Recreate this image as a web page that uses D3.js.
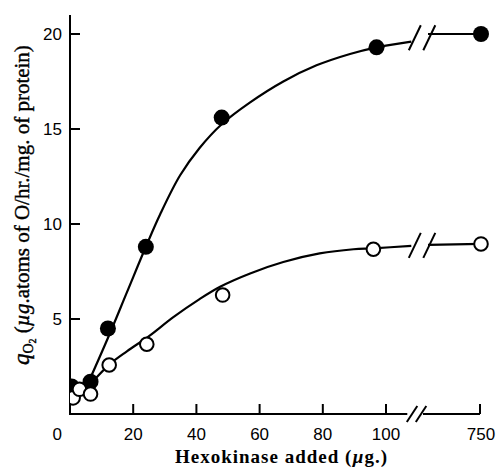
<!DOCTYPE html>
<html>
<head>
  <meta charset="utf-8">
  <title>Hexokinase and q O2</title>
  <script src="https://d3js.org/d3.v7.min.js"></script>
  <style>
    body {
      margin: 0;
      padding: 0;
      background: white;
    }
    .axis-line, .tick-mark, .brk {
      stroke: black;
      stroke-width: 2;
      fill: none;
    }
    .tick-label {
      font-family: "Liberation Sans", Arial, sans-serif;
      font-size: 17px;
      fill: black;
    }
    .axis-title {
      font-family: "Liberation Serif", "Times New Roman", serif;
      fill: black;
    }
    .curve {
      stroke: black;
      stroke-width: 2.2;
      fill: none;
    }
  </style>
</head>
<body>
<div id="chart"></div>
<script>

  // measured points, x = hexokinase (ug), y = qO2
  var filledX = [0.5, 6.5, 12, 24, 48, 97, 750]
  var filledY = [1.45, 1.7, 4.5, 8.8, 15.6, 19.3, 20.0]
  var openX = [1, 3, 6.5, 12.4, 24.3, 48.3, 96, 750]
  var openY = [0.85, 1.3, 1.05, 2.58, 3.67, 6.26, 8.67, 8.95]

  // hand-drawn fitted curves (before the break)
  var upperCurveX = [5, 12, 18, 24, 28.5, 34.8, 41, 48, 57, 67.5, 78, 88.6, 97, 108]
  var upperCurveY = [1.35, 4.0, 6.4, 8.8, 10.5, 12.55, 14.0, 15.25, 16.4, 17.5, 18.35, 18.95, 19.3, 19.6]
  var lowerCurveX = [0, 3, 6.5, 12.4, 18, 25, 32.7, 41, 47.5, 57, 67.5, 79, 89.7, 96, 108]
  var lowerCurveY = [0.6, 1.1, 1.6, 2.6, 3.3, 4.1, 5.1, 6.05, 6.7, 7.4, 8.0, 8.45, 8.67, 8.72, 8.85]
  // curves after the break
  var upperTailX = [112, 750]
  var upperTailY = [20.0, 20.0]
  var lowerTailX = [112, 750]
  var lowerTailY = [8.9, 8.95]

  // tick values and labels
  var xTicks = [20, 40, 60, 80, 100, 750]
  var xTickLabels = ["20", "40", "60", "80", "100", "750"]
  var yTicks = [5, 10, 15, 20]

  var width = 500,
      height = 467

  var svg = d3.select("#chart")
    .append("svg")
    .attr("width", width)
    .attr("height", height)

  // broken x scale: 0-108 linear, gap, then a short tail up to 750
  var x = d3.scaleLinear()
    .domain([0, 108, 112, 750])
    .range([70, 411.3, 428, 481])

  var y = d3.scaleLinear()
    .domain([0, 21])
    .range([414, 15])

  // clip so points at x=0 are cut by the y axis
  svg.append("clipPath")
    .attr("id", "plot-clip")
    .append("rect")
    .attr("x", x(0))
    .attr("y", 0)
    .attr("width", width - x(0))
    .attr("height", y(0))

  // ---- axes ----
  var axes = svg.append("g")

  // y axis line
  axes.append("line")
    .attr("class", "axis-line")
    .attr("x1", x(0)).attr("x2", x(0))
    .attr("y1", y(21)).attr("y2", y(0) + 1)

  // x axis main part and tail
  axes.append("line")
    .attr("class", "axis-line")
    .attr("x1", x(0)).attr("x2", x(108) - 4)
    .attr("y1", y(0)).attr("y2", y(0))
  axes.append("line")
    .attr("class", "axis-line")
    .attr("x1", x(112) - 5).attr("x2", x(750) - 1)
    .attr("y1", y(0)).attr("y2", y(0))

  // break marks on the x axis
  axes.selectAll(".xbrk")
    .data([0.5, 9.5])
    .enter().append("line")
    .attr("class", "brk")
    .attr("x1", function (d) { return x(108) + d - 5 })
    .attr("x2", function (d) { return x(108) + d + 5.5 })
    .attr("y1", y(0) + 8)
    .attr("y2", y(0) - 8)

  // x ticks (pointing up) and labels
  axes.selectAll(".xtick")
    .data(xTicks)
    .enter().append("line")
    .attr("class", "tick-mark")
    .attr("x1", function (d) { return x(d) - (d === 750 ? 1 : 0) })
    .attr("x2", function (d) { return x(d) - (d === 750 ? 1 : 0) })
    .attr("y1", y(0))
    .attr("y2", y(0) - 10)

  axes.selectAll(".xlabel")
    .data(xTicks)
    .enter().append("text")
    .attr("class", "tick-label")
    .attr("x", function (d) { return x(d) })
    .attr("y", 440)
    .attr("text-anchor", "middle")
    .text(function (d, i) { return xTickLabels[i] })

  axes.append("text")
    .attr("class", "tick-label")
    .attr("x", x(0) - 8)
    .attr("y", 440)
    .attr("text-anchor", "end")
    .text("0")

  // y ticks (pointing right) and labels
  axes.selectAll(".ytick")
    .data(yTicks)
    .enter().append("line")
    .attr("class", "tick-mark")
    .attr("x1", x(0))
    .attr("x2", x(0) + 10)
    .attr("y1", function (d) { return y(d) })
    .attr("y2", function (d) { return y(d) })

  axes.selectAll(".ylabel")
    .data(yTicks)
    .enter().append("text")
    .attr("class", "tick-label")
    .attr("x", 62)
    .attr("y", function (d) { return y(d) })
    .attr("dy", "0.36em")
    .attr("text-anchor", "end")
    .text(function (d) { return d })

  // x axis title
  var xTitle = axes.append("text")
    .attr("class", "axis-title")
    .attr("x", 175)
    .attr("y", 463)
    .style("font-weight", "bold")
    .style("font-size", "19px")
    .style("letter-spacing", "1px")
  xTitle.append("tspan").text("Hexokinase added (")
  xTitle.append("tspan").style("font-style", "italic").text("\u00b5")
  xTitle.append("tspan").text("g.)")

  // y axis title, rotated
  var yTitle = axes.append("text")
    .attr("class", "axis-title")
    .attr("transform", "translate(29,365) rotate(-90)")
    .style("font-size", "21px")
    .style("stroke", "black")
    .style("stroke-width", 0.4)
  yTitle.append("tspan").style("font-style", "italic").style("font-size", "23px").text("q")
  yTitle.append("tspan").attr("dy", 4).style("font-size", "14px").text("O")
  yTitle.append("tspan").attr("dy", 3).style("font-size", "10px").text("2")
  yTitle.append("tspan").attr("dy", -7).text(" (")
  yTitle.append("tspan").style("font-style", "italic").text("\u00b5g")
  yTitle.append("tspan").text(".atoms of O/hr./mg. of protein)")

  // ---- curves ----
  var line = d3.line()
    .x(function (d) { return x(d[0]) })
    .y(function (d) { return y(d[1]) })
    .curve(d3.curveCatmullRom.alpha(0.5))

  function pairs(xs, ys) {
    return xs.map(function (v, i) { return [v, ys[i]] })
  }

  var curves = svg.append("g")
  ;[
    pairs(upperCurveX, upperCurveY),
    pairs(upperTailX, upperTailY),
    pairs(lowerCurveX, lowerCurveY),
    pairs(lowerTailX, lowerTailY)
  ].forEach(function (pts) {
    curves.append("path")
      .attr("class", "curve")
      .attr("d", line(pts))
  })

  // break marks across each curve
  ;[[upperCurveY[upperCurveY.length - 1], upperTailY[0]],
    [lowerCurveY[lowerCurveY.length - 1], lowerTailY[0]]].forEach(function (ends) {
    var cy = (y(ends[0]) + y(ends[1])) / 2
    ;[3.5, 18].forEach(function (off) {
      curves.append("line")
        .attr("class", "brk")
        .attr("x1", x(108) + off - 6)
        .attr("x2", x(108) + off + 6)
        .attr("y1", cy + 12.5)
        .attr("y2", cy - 12.5)
    })
  })

  // ---- points ----
  var points = svg.append("g")
    .attr("clip-path", "url(#plot-clip)")

  points.selectAll(".filled")
    .data(pairs(filledX, filledY))
    .enter().append("circle")
    .attr("cx", function (d) { return x(d[0]) })
    .attr("cy", function (d) { return y(d[1]) })
    .attr("r", 8)
    .style("fill", "black")

  points.selectAll(".open")
    .data(pairs(openX, openY))
    .enter().append("circle")
    .attr("cx", function (d) { return x(d[0]) })
    .attr("cy", function (d) { return y(d[1]) })
    .attr("r", 6.8)
    .style("fill", "white")
    .style("stroke", "black")
    .style("stroke-width", 2)

</script>
</body>
</html>
